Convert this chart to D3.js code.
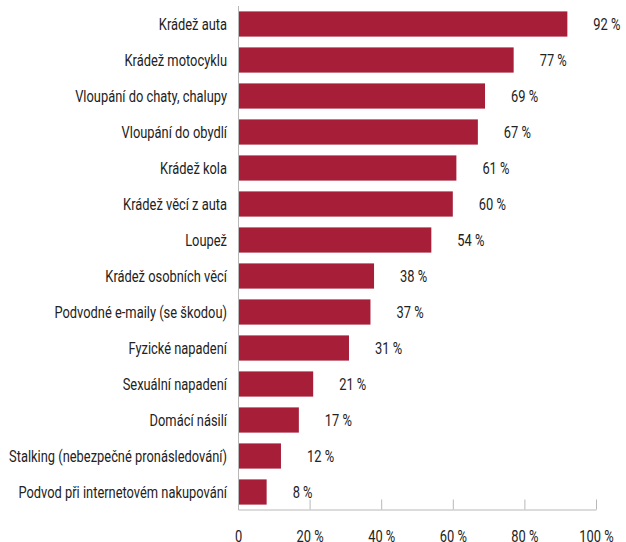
<!DOCTYPE html>
<html>
<head>
<meta charset="utf-8">
<script src="https://cdn.jsdelivr.net/npm/d3@7"></script>
<style>
  body { margin: 0; background: #fff; }
  text { font-family: Roboto, "Noto Sans", sans-serif; }
</style>
</head>
<body>
<div id="chart"></div>
<script>
// Data
const categories = [
  "Krádež auta",
  "Krádež motocyklu",
  "Vloupání do chaty, chalupy",
  "Vloupání do obydlí",
  "Krádež kola",
  "Krádež věcí z auta",
  "Loupež",
  "Krádež osobních věcí",
  "Podvodné e-maily (se škodou)",
  "Fyzické napadení",
  "Sexuální napadení",
  "Domácí násilí",
  "Stalking (nebezpečné pronásledování)",
  "Podvod při internetovém nakupování"
];
const values = [92, 77, 69, 67, 61, 60, 54, 38, 37, 31, 21, 17, 12, 8];
const xTicks = [0, 20, 40, 60, 80, 100];

// Base variables
const w = 626;
const h = 542;
const barColor = "#a61e38";
const axisColor = "#b8b8b8";
const textColor = "#222";
const fontSize = 16.5;

const xScale = d3.scaleLinear().domain([0, 100]).range([238, 596]);
const yScale = d3.scaleBand()
  .domain(categories)
  .range([6, 510])
  .paddingInner(0.3)
  .paddingOuter(0.15);

const svg = d3.select("#chart")
  .append("svg")
  .attr("width", w)
  .attr("height", h);

// condensed look: squeeze text horizontally so the longest label is ~218px
const probe = svg.append("text").attr("font-size", fontSize).text(categories[12]);
const squeeze = 218 / probe.node().getComputedTextLength();
probe.remove();

// bars
svg.selectAll("rect.bar")
  .data(values)
  .enter()
  .append("rect")
  .attr("class", "bar")
  .attr("x", xScale(0))
  .attr("y", (d, i) => yScale(categories[i]))
  .attr("width", d => xScale(d) - xScale(0))
  .attr("height", yScale.bandwidth())
  .style("fill", barColor);

// value labels
svg.selectAll("text.val")
  .data(values)
  .enter()
  .append("text")
  .attr("class", "val")
  .attr("transform", (d, i) =>
    `translate(${xScale(d) + 26}, ${yScale(categories[i]) + yScale.bandwidth() / 2}) scale(${squeeze}, 1)`)
  .attr("dy", "0.36em")
  .attr("font-size", fontSize)
  .attr("fill", textColor)
  .text(d => d + " %");

// category labels
svg.selectAll("text.cat")
  .data(categories)
  .enter()
  .append("text")
  .attr("class", "cat")
  .attr("transform", d =>
    `translate(227, ${yScale(d) + yScale.bandwidth() / 2}) scale(${squeeze}, 1)`)
  .attr("dy", "0.36em")
  .attr("text-anchor", "end")
  .attr("font-size", fontSize)
  .attr("fill", textColor)
  .text(d => d);

// y axis line
svg.append("line")
  .attr("x1", xScale(0) + 0.5)
  .attr("x2", xScale(0) + 0.5)
  .attr("y1", 6)
  .attr("y2", 510)
  .attr("stroke", axisColor)
  .attr("stroke-width", 1);

// x axis
const xAxis = d3.axisBottom(xScale)
  .tickValues(xTicks)
  .tickSize(-10)
  .tickSizeOuter(0)
  .tickPadding(21)
  .tickFormat(d => d === 0 ? "0" : d + " %");

const gx = svg.append("g")
  .attr("id", "x-axis")
  .attr("transform", "translate(0, 509.5)")
  .call(xAxis);

gx.select(".domain").attr("stroke", axisColor);
gx.selectAll(".tick line").attr("stroke", axisColor);
gx.selectAll(".tick text")
  .attr("font-size", fontSize)
  .attr("font-family", "Roboto, 'Noto Sans', sans-serif")
  .attr("fill", textColor)
  .attr("transform", `scale(${squeeze}, 1)`);
</script>
</body>
</html>
